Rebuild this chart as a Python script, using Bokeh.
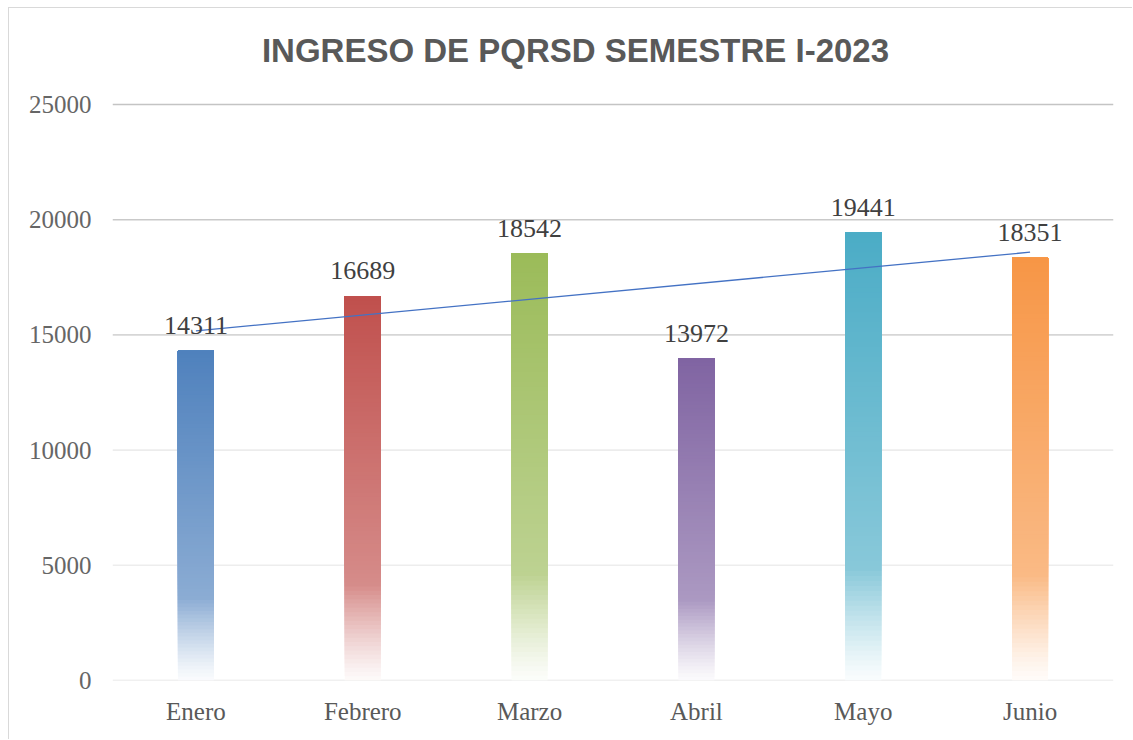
import numpy as np
from bokeh.plotting import figure
from bokeh.models import ColumnDataSource, FixedTicker, Span, FactorRange, Range1d, Label
from bokeh.core.properties import value
from bokeh.embed import file_html
from bokeh.resources import INLINE

# ---- data ----
months = ["Enero", "Febrero", "Marzo", "Abril", "Mayo", "Junio"]
counts = [14311, 16689, 18542, 13972, 19441, 18351]
bar_colors = ["#4F81BD", "#C0504D", "#9BBB59", "#8064A2", "#4BACC6", "#F79646"]
y_ticks = [0, 5000, 10000, 15000, 20000, 25000]
title_text = "INGRESO DE PQRSD SEMESTRE I-2023"

# ---- styles / layout ----
grid_colors = ["#e2e2e2", "#ededed", "#ececec", "#d6d6d6", "#c9c9c9", "#c4c4c4"]
SERIF = "Liberation Serif"
N_SEG = 90
AXIS_PX = 576.0          # pixel height of 0..25000
FRAME_PX = 652.0         # frame height (extra room on top for the title)
Y_END = y_ticks[-1] * FRAME_PX / AXIS_PX
TITLE_Y = Y_END - 22 * y_ticks[-1] / AXIS_PX


def blend(hexc, a):
    r, g, b = int(hexc[1:3], 16), int(hexc[3:5], 16), int(hexc[5:7], 16)
    f = lambda c: int(round(255 + (c - 255) * a))
    return "#%02x%02x%02x" % (f(r), f(g), f(b))


def shade(f):
    # f: 0 at bar bottom, 1 at bar top
    if f >= 0.25:
        return 0.66 + 0.34 * (f - 0.25) / 0.75
    return 0.03 + 0.63 * (f / 0.25) ** 1.2


seg = {"x": [], "bottom": [], "top": [], "color": []}
for m, c, col in zip(months, counts, bar_colors):
    for i in range(N_SEG):
        f = i / N_SEG
        seg["x"].append(m)
        seg["bottom"].append(c * f)
        seg["top"].append(c)
        seg["color"].append(blend(col, shade(f + 0.5 / N_SEG)))

p = figure(
    width=1124, height=732,
    x_range=FactorRange(*months), y_range=Range1d(0, Y_END),
    output_backend="svg", toolbar_location=None,
    min_border_left=103, min_border_right=20, min_border_bottom=60, min_border_top=20,
)
p.outline_line_color = None
p.xgrid.visible = False
p.ygrid.visible = False
p.styles = {"margin-left": "8px", "margin-top": "7px",
            "border-left": "1px solid #d9d9d9", "border-top": "1px solid #d9d9d9"}

# chart title (inside the frame, above the 25000 gridline)
p.add_layout(Label(x=2.775, y=TITLE_Y, text=title_text,
                   text_align="center", text_baseline="middle",
                   text_font="Liberation Sans", text_font_style="bold",
                   text_font_size="33px", text_color="#595959"))

for t, gc in zip(y_ticks, grid_colors):
    p.add_layout(Span(location=t, dimension="width", line_color=gc, line_width=1.6, level="underlay"))

src = ColumnDataSource(seg)
p.vbar(x="x", bottom="bottom", top="top", width=0.216, fill_color="color", line_color=None, source=src)

# linear trend line
xs = np.arange(1, len(counts) + 1)
k, b0 = np.polyfit(xs, counts, 1)
p.line(x=[months[0], months[-1]], y=[k * xs[0] + b0, k * xs[-1] + b0], line_color="#4472C4", line_width=1.3)

p.text(x=months, y=counts, text=[str(c) for c in counts], text_align="center", text_baseline="middle",
       y_offset=-25, text_font=value(SERIF), text_font_size="26px", text_color="#404040")

p.yaxis.ticker = FixedTicker(ticks=y_ticks)
p.yaxis.axis_line_color = None
p.yaxis.major_tick_line_color = None
p.yaxis.minor_tick_line_color = None
p.yaxis.major_tick_out = 0
p.yaxis.major_label_standoff = 21
p.yaxis.major_label_text_font = SERIF
p.yaxis.major_label_text_font_size = "25px"
p.yaxis.major_label_text_color = "#666666"

p.xaxis.axis_line_color = None
p.xaxis.major_tick_line_color = None
p.xaxis.major_tick_out = 0
p.xaxis.major_label_standoff = 17
p.xaxis.major_label_text_font = SERIF
p.xaxis.major_label_text_font_size = "25px"
p.xaxis.major_label_text_color = "#595959"

open("out.html", "w").write(file_html(p, INLINE))
